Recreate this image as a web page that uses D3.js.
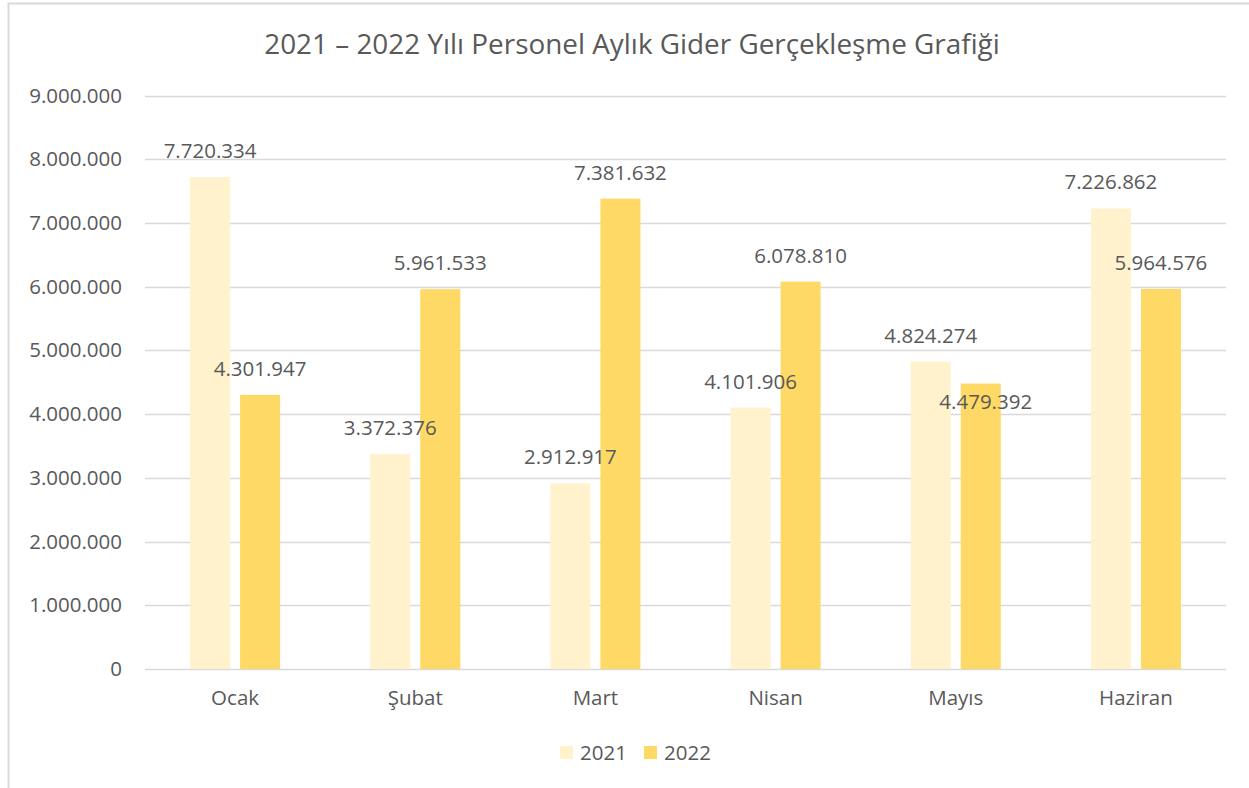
<!DOCTYPE html>
<html>
<head>
<meta charset="utf-8">
<script src="https://cdn.jsdelivr.net/npm/d3@7"></script>
<style>
  html, body { margin: 0; padding: 0; background: #fff; }
  svg { display: block; }
  text { font-family: "Open Sans", "Noto Sans", sans-serif; fill: #595959; }
</style>
</head>
<body>
<svg id="chart" width="1249" height="788"></svg>
<script>
const title = "2021 – 2022 Yılı Personel Aylık Gider Gerçekleşme Grafiği";
const categories = ["Ocak", "Şubat", "Mart", "Nisan", "Mayıs", "Haziran"];
const seriesNames = ["2021", "2022"];
const values2021 = [7720334, 3372376, 2912917, 4101906, 4824274, 7226862];
const values2022 = [4301947, 5961533, 7381632, 6078810, 4479392, 5964576];
const yTicks = [0, 1000000, 2000000, 3000000, 4000000, 5000000, 6000000, 7000000, 8000000, 9000000];
const colors = ["#FFF2CC", "#FFD966"];

const series = [values2021, values2022];
const fmt = v => d3.format(",")(v).replace(/,/g, ".");

const svg = d3.select("#chart");

// chart border
svg.append("rect")
  .attr("x", 8.5).attr("y", 3.5)
  .attr("width", 1260).attr("height", 800)
  .attr("fill", "none").attr("stroke", "#D9D9D9").attr("stroke-width", 2);

const plot = { left: 145, right: 1226, top: 95.5, bottom: 669 };

const x0 = d3.scaleBand().domain(categories).range([plot.left, plot.right]).paddingInner(0.5).paddingOuter(0.25);
const x1 = d3.scaleBand().domain(seriesNames).range([0, x0.bandwidth()]).paddingInner(0.2);
const y = d3.scaleLinear().domain([0, 9000000]).range([plot.bottom, plot.top]);

// gridlines
svg.append("g").selectAll("line").data(yTicks).join("line")
  .attr("x1", plot.left).attr("x2", plot.right)
  .attr("y1", d => Math.round(y(d)) + 0.5).attr("y2", d => Math.round(y(d)) + 0.5)
  .attr("stroke", "#D9D9D9").attr("stroke-width", 1.5);

// y axis labels
const yAxis = d3.axisLeft(y).tickValues(yTicks).tickFormat(fmt).tickSize(0).tickPadding(0);
const yg = svg.append("g").attr("transform", `translate(${plot.left - 23},0)`).call(yAxis);
yg.select(".domain").remove();
yg.selectAll("text").attr("font-size", 20.5).attr("fill", "#595959")
  .attr("font-family", "'Open Sans', sans-serif");

// x axis labels
const xAxis = d3.axisBottom(x0).tickSize(0).tickPadding(0);
const xg = svg.append("g").attr("transform", `translate(0,${plot.bottom + 21})`).call(xAxis);
xg.select(".domain").remove();
xg.selectAll("text").attr("font-size", 20.5).attr("fill", "#595959")
  .attr("font-family", "'Open Sans', sans-serif");

// bars
const groups = svg.append("g").selectAll("g").data(categories).join("g")
  .attr("transform", d => `translate(${x0(d)},0)`);

groups.selectAll("rect")
  .data((c, i) => seriesNames.map((s, k) => ({ s, k, v: series[k][i] })))
  .join("rect")
  .attr("x", d => x1(d.s))
  .attr("width", x1.bandwidth())
  .attr("y", d => y(d.v))
  .attr("height", d => y(0) - y(d.v))
  .attr("fill", d => colors[d.k]);

// data labels with simple overlap avoidance
const labelH = 22;
categories.forEach((c, i) => {
  const pos = seriesNames.map((s, k) => ({
    x: x0(c) + x1(s) + x1.bandwidth() / 2,
    base: y(series[k][i]) - 19,
    top: y(series[k][i]),
    v: series[k][i]
  }));
  if (Math.abs(pos[0].base - pos[1].base) < labelH) {
    // lower one moves inside its bar end
    const low = pos[0].v < pos[1].v ? pos[0] : pos[1];
    low.base = low.top + 25;
    low.x += 5;
  }
  pos.forEach(p => {
    svg.append("text")
      .attr("x", p.x).attr("y", p.base)
      .attr("text-anchor", "middle")
      .attr("font-size", 20.5)
      .text(fmt(p.v));
  });
});

// title
const t = svg.append("text")
  .attr("x", 632).attr("y", 54)
  .attr("text-anchor", "middle")
  .attr("font-size", 27)
  .text(title);
const w = t.node().getComputedTextLength();
t.attr("font-size", 27 * 736 / w);

// legend
const legend = svg.append("g");
const legX = [560, 644];
seriesNames.forEach((s, k) => {
  legend.append("rect").attr("x", legX[k]).attr("y", 746).attr("width", 13).attr("height", 13).attr("fill", colors[k]);
  legend.append("text").attr("x", legX[k] + 20).attr("y", 760).attr("font-size", 20.5).text(s);
});
</script>
</body>
</html>
